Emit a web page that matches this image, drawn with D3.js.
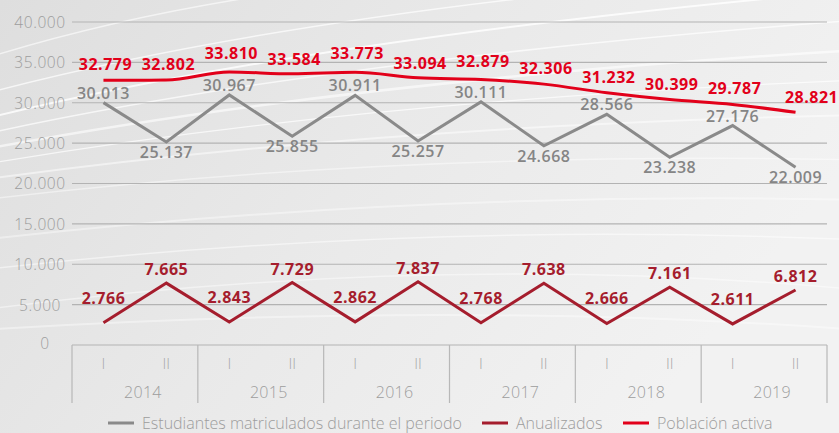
<!DOCTYPE html>
<html><head><meta charset="utf-8">
<script src="https://cdn.jsdelivr.net/npm/d3@7"></script>
<style>html,body{margin:0;padding:0;background:#ebebeb;}svg{display:block;}</style>
</head><body>
<svg id="c" width="839" height="433"></svg>
<script>
const years = ["2014","2015","2016","2017","2018","2019"];
const halves = ["I","II"];
const yTicks = [0,5000,10000,15000,20000,25000,30000,35000,40000];
const estudiantes = [30013,25137,30967,25855,30911,25257,30111,24668,28566,23238,27176,22009];
const anualizados = [2766,7665,2843,7729,2862,7837,2768,7638,2666,7161,2611,6812];
const poblacion = [32779,32802,33810,33584,33773,33094,32879,32306,31232,30399,29787,28821];
const seriesNames = ["Estudiantes matriculados durante el periodo","Anualizados","Población activa"];

const svg = d3.select("#c");
const W = 839, H = 433;
const m = {left:72, right:12, top:22, bottom:88};
const fmt = v => d3.format(",")(v).replace(/,/g,".");

// background
const defs = svg.append("defs");
const g1 = defs.append("linearGradient").attr("id","bg").attr("x1","0").attr("y1","0").attr("x2","1").attr("y2","0.4");
g1.append("stop").attr("offset","0").attr("stop-color","#dedede");
g1.append("stop").attr("offset","0.5").attr("stop-color","#e9e9e9");
g1.append("stop").attr("offset","1").attr("stop-color","#f2f2f2");
svg.append("rect").attr("width",W).attr("height",H).attr("fill","url(#bg)");
const sw = svg.append("g").attr("fill","none").attr("stroke","#ffffff");
const swooshes = [
 ["M-20,120 Q300,40 860,-10",2,0.8],["M-20,135 Q320,60 860,20",1.5,0.7],
 ["M-20,150 Q350,80 860,50",2.5,0.6],["M-20,165 Q360,100 860,80",1.2,0.7],
 ["M-20,180 Q380,125 860,115",2,0.5],["M-20,95 Q260,20 700,-20",1.5,0.7],
 ["M-20,200 Q400,150 860,160",1.5,0.45],["M-20,240 Q420,190 860,200",2,0.4],
 ["M-20,270 Q420,220 860,240",1.5,0.5],["M-20,310 Q440,250 860,290",1.5,0.45],
 ["M-20,330 Q460,300 860,330",2,0.4],["M-20,60 Q200,-10 500,-30",1.5,0.6]
];
swooshes.forEach(s=>sw.append("path").attr("d",s[0]).attr("stroke-width",s[1]).attr("opacity",s[2]));

const keys = [];
years.forEach(y=>halves.forEach(h=>keys.push(y+"-"+h)));
const x = d3.scalePoint().domain(keys).range([m.left, W-m.right]).padding(0.5);
const xYear = d3.scaleBand().domain(years).range([m.left, W-m.right]);
const y = d3.scaleLinear().domain([0,40000]).range([345, 22]);

// grid
const grid = svg.append("g");
grid.selectAll("line").data(yTicks).join("line")
  .attr("x1",m.left).attr("x2",W-m.right)
  .attr("y1",d=>y(d)).attr("y2",d=>y(d))
  .attr("stroke","#b3b3b3").attr("stroke-width",1.2);
const yAx = d3.axisLeft(y).tickValues(yTicks).tickFormat(fmt).tickSize(0);
const ya = svg.append("g").attr("transform","translate(40,0)").call(yAx);
ya.select(".domain").remove();
ya.selectAll("text").attr("text-anchor","middle").attr("x",d=>d===0?5:0).attr("dy",d=>d===0?"0.2em":"0.35em")
  .attr("fill","#9d9d9d").style("font-family","Open Sans").style("font-size","15.5px").style("font-weight","300").style("letter-spacing","0.6px");

// x axis
const xa = svg.append("g");
xa.selectAll("line.sep").data(years.concat(["end"])).join("line").attr("class","sep")
  .attr("x1",(d,i)=> i<years.length ? xYear(d) : xYear(years[years.length-1])+xYear.bandwidth())
  .attr("x2",(d,i)=> i<years.length ? xYear(d) : xYear(years[years.length-1])+xYear.bandwidth())
  .attr("y1",345).attr("y2",403).attr("stroke","#b8b8b8").attr("stroke-width",1.2);
xa.selectAll("text.h").data(keys).join("text").attr("class","h")
  .attr("x",d=>x(d)).attr("y",369).attr("text-anchor","middle").text(d=>d.split("-")[1])
  .attr("fill","#a8a8a8").style("font-family","Open Sans").style("font-size","15px").style("font-weight","300");
xa.selectAll("text.yr").data(years).join("text").attr("class","yr")
  .attr("x",d=>xYear(d)+xYear.bandwidth()/2+8).attr("y",398).attr("text-anchor","middle").text(d=>d)
  .attr("fill","#9d9d9d").style("font-family","Open Sans").style("font-size","16px").style("font-weight","300").style("letter-spacing","0.3px");

const line = d3.line().x((d,i)=>x(keys[i])).y(d=>y(d));
const smooth = d3.line().x((d,i)=>x(keys[i])).y(d=>y(d)).curve(d3.curveMonotoneX);
const cGray = "#8a8a8a", cDark = "#a51d2d", cRed = "#e2001a";

svg.append("path").datum(estudiantes).attr("d",line).attr("fill","none").attr("stroke",cGray).attr("stroke-width",3);
svg.append("path").datum(anualizados).attr("d",line).attr("fill","none").attr("stroke",cDark).attr("stroke-width",3);
svg.append("path").datum(poblacion).attr("d",smooth).attr("fill","none").attr("stroke",cRed).attr("stroke-width",3);

const lab = (data, color, weight, dyFn, dxFn) => {
  svg.append("g").selectAll("text").data(data).join("text")
    .attr("x",(d,i)=>x(keys[i])+dxFn(d,i)).attr("y",(d,i)=>y(d)+dyFn(d,i))
    .attr("text-anchor","middle").text(fmt)
    .attr("fill",color).style("font-family","Open Sans").style("font-size","16px")
    .style("font-weight",weight).style("letter-spacing","0.5px");
};
lab(estudiantes, "#858585", 600, (d,i)=> i%2===0 ? -4 : 16, ()=>0);
lab(anualizados, cDark, 700, (d,i)=> i%2===0 ? -19 : -8, ()=>0);
lab(poblacion, cRed, 700, (d,i)=> i===poblacion.length-1 ? -9 : (i>=2 && i<=6 ? (i%2===0 ? -13 : -9) : -10), (d,i)=> i===poblacion.length-1 ? 16 : 2);

// legend
const lg = svg.append("g").attr("transform","translate(0,423)");
const lcol = [cGray, cDark, cRed];
const lx = [108, 482, 623];
seriesNames.forEach((n,i)=>{
  lg.append("line").attr("x1",lx[i]).attr("x2",lx[i]+26).attr("y1",0).attr("y2",0).attr("stroke",lcol[i]).attr("stroke-width",3);
  lg.append("text").attr("x",lx[i]+34).attr("y",0).attr("dy","0.35em").text(n)
    .attr("fill","#9d9d9d").style("font-family","Open Sans").style("font-size","16px").style("font-weight","300");
});
</script>
</body></html>
